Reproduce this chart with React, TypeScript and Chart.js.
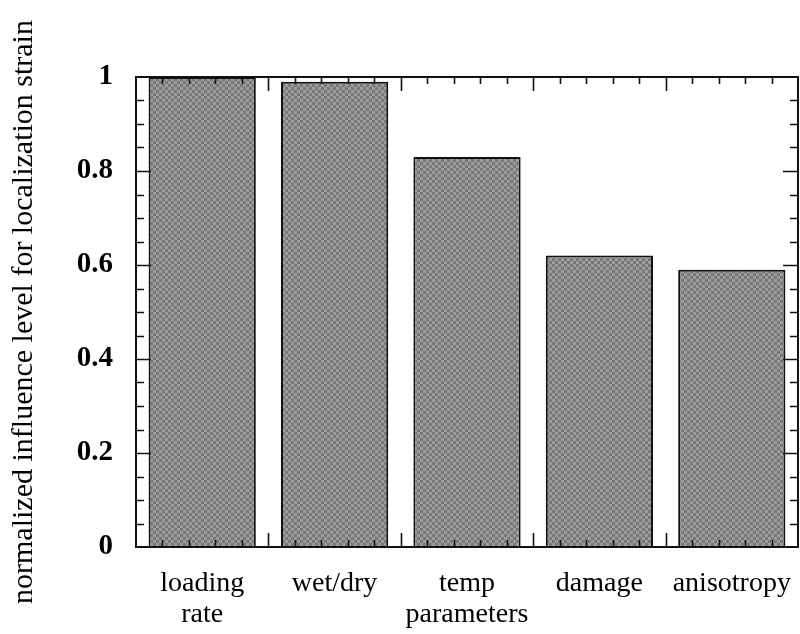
import React, { useEffect, useRef } from "react";
import { Chart, registerables } from "chart.js";

Chart.register(...registerables);

const categories: (string | string[])[] = [
  ["loading", "rate"],
  "wet/dry",
  ["temp", "parameters"],
  "damage",
  "anisotropy",
];
const influence: number[] = [1.0, 0.99, 0.83, 0.62, 0.59];
const yTickValues: number[] = [0, 0.2, 0.4, 0.6, 0.8, 1];
const yTickLabels: string[] = ["0", "0.2", "0.4", "0.6", "0.8", "1"];
const yTitle = "normalized influence level for localization strain";

function makePattern(): CanvasPattern | string {
  const c = document.createElement("canvas");
  c.width = 6;
  c.height = 6;
  const g = c.getContext("2d");
  if (!g) return "#8a8a8a";
  g.fillStyle = "#9c9c9c";
  g.fillRect(0, 0, 6, 6);
  g.fillStyle = "#787878";
  g.fillRect(0, 0, 3, 3);
  g.fillRect(3, 3, 3, 3);
  const p = g.createPattern(c, "repeat");
  return p || "#8a8a8a";
}

const frameTicks = {
  id: "frameTicks",
  afterDraw(chart: any) {
    const { ctx, chartArea, scales } = chart;
    const { left, right, top, bottom } = chartArea;
    const xs = scales.x;
    const ys = scales.y;
    ctx.save();
    ctx.strokeStyle = "#111";
    ctx.lineWidth = 1.6;
    ctx.beginPath();
    for (let k = 0; k <= 25; k++) {
      const v = -0.5 + k * 0.2;
      const px = Math.round(xs.getPixelForValue(v)) + 0.5;
      if (px <= left + 1 || px >= right - 1) continue;
      const len = k % 5 === 0 ? 14 : 7;
      ctx.moveTo(px, bottom);
      ctx.lineTo(px, bottom - len);
      ctx.moveTo(px, top);
      ctx.lineTo(px, top + len);
    }
    for (let k = 0; k <= 20; k++) {
      const v = k * 0.05;
      const py = Math.round(ys.getPixelForValue(v)) + 0.5;
      if (py <= top + 1 || py >= bottom - 1) continue;
      const len = k % 4 === 0 ? 15 : 8;
      ctx.moveTo(left, py);
      ctx.lineTo(left + len, py);
      ctx.moveTo(right, py);
      ctx.lineTo(right - len, py);
    }
    ctx.stroke();
    ctx.lineWidth = 2;
    ctx.strokeRect(left, top, right - left, bottom - top);
    ctx.restore();
  },
};

export default function App() {
  const ref = useRef<HTMLCanvasElement | null>(null);
  useEffect(() => {
    if (!ref.current) return;
    const pattern = makePattern();
    const chart = new Chart(ref.current, {
      type: "bar",
      data: {
        labels: categories,
        datasets: [
          {
            data: influence,
            backgroundColor: pattern as any,
            borderColor: "#111",
            borderWidth: 2,
            barPercentage: 0.81,
            categoryPercentage: 1,
          },
        ],
      },
      options: {
        animation: false,
        responsive: false,
        maintainAspectRatio: false,
        devicePixelRatio: 1,
        layout: { padding: { left: 0, right: 2, top: 77, bottom: 0 } },
        plugins: { legend: { display: false }, tooltip: { enabled: false } },
        scales: {
          x: {
            offset: true,
            grid: { display: false, drawTicks: false },
            border: { display: false },
            ticks: {
              color: "#000",
              padding: 21,
              maxRotation: 0,
              autoSkip: false,
              font: { family: "'Liberation Serif', serif", size: 28, lineHeight: 1.12 },
            },
            afterFit: (s: any) => {
              s.height = 87;
              s.paddingLeft = 0;
              s.paddingRight = 0;
            },
          },
          y: {
            min: 0,
            max: 1,
            afterBuildTicks: (s: any) => {
              s.ticks = yTickValues.map((v) => ({ value: v }));
            },
            grid: { display: false, drawTicks: false },
            border: { display: false },
            ticks: {
              color: "#000",
              padding: 23,
              callback: (_v: any, i: number) => yTickLabels[i],
              font: { family: "'Liberation Serif', serif", size: 29, weight: "bold" },
            },
            title: {
              display: true,
              text: yTitle,
              color: "#000",
              padding: { top: 6, bottom: 0 },
              font: { family: "'Liberation Serif', serif", size: 30 },
            },
            afterFit: (s: any) => {
              s.width = 136;
              s.paddingTop = 0;
              s.paddingBottom = 0;
            },
          },
        },
      },
      plugins: [frameTicks],
    });
    return () => chart.destroy();
  }, []);
  return (
    <div style={{ position: "fixed", left: 0, top: 0, width: 800, height: 634, background: "#fff" }}>
      <canvas ref={ref} width={800} height={634} style={{ width: 800, height: 634 }} />
    </div>
  );
}
